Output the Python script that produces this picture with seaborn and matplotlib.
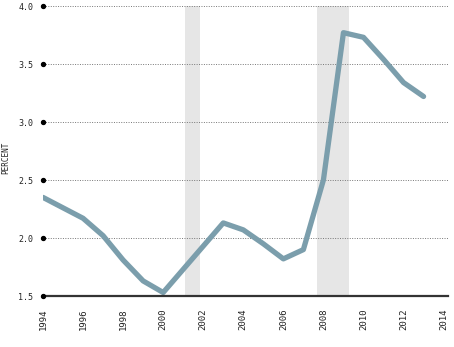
import pandas as pd
import numpy as np
import matplotlib
matplotlib.use('Agg')
import matplotlib.pyplot as plt
import seaborn as sns

# ── データ ──────────────────────────────────────────
years = list(range(1994, 2014))
values = [2.35, 2.26, 2.17, 2.02, 1.81, 1.63, 1.53, 1.73, 1.93, 2.13,
          2.07, 1.95, 1.82, 1.90, 2.50, 3.77, 3.73, 3.54, 3.34, 3.22]
recessions = [(2001.1, 2001.85), (2007.7, 2009.27)]
yticks = [1.5, 2.0, 2.5, 3.0, 3.5, 4.0]
xticks = list(range(1994, 2015, 2))

df = pd.DataFrame({'year': years, 'value': values})

sns.set_theme(style='white')
plt.rcParams['font.family'] = ['DejaVu Sans Mono', 'DejaVu Sans']

fig = plt.figure(figsize=(4.54, 3.47), dpi=100)
ax = fig.add_axes([43 / 454, 1 - 296 / 347, 405 / 454, 290 / 347])

for x0, x1 in recessions:
    ax.axvspan(x0, x1, color='#e6e6e6', lw=0, zorder=0)

sns.lineplot(data=df, x='year', y='value', ax=ax, color='#7b9eac',
             linewidth=3.8, solid_joinstyle='round', solid_capstyle='round', zorder=3)

ax.set_xlim(1994, 2014.22)
ax.set_ylim(1.5, 4.0)
ax.set_yticks(yticks)
ax.set_yticklabels([f'{v:.1f}' for v in yticks], fontsize=6)
ax.set_xticks(xticks)
ax.set_xticklabels([str(x) for x in xticks], fontsize=6.5, rotation=90)
ax.tick_params(axis='both', length=0, colors='#222222')
ax.tick_params(axis='y', pad=7)
ax.tick_params(axis='x', pad=9)

for y in yticks[1:]:
    ax.axhline(y, color='#777777', linestyle=(0, (1, 1.5)), lw=0.7, zorder=1)

# 目盛りの点
ax.scatter([1994] * len(yticks), yticks, s=8, color='black', zorder=5, clip_on=False)

for s in ['top', 'right', 'left']:
    ax.spines[s].set_visible(False)
ax.spines['bottom'].set_color('#333333')
ax.spines['bottom'].set_linewidth(1.6)
ax.spines['bottom'].set_zorder(4)

ax.set_xlabel('')
ax.set_ylabel('')
fig.text(0.013, 0.545, 'PERCENT', rotation=90, fontsize=5.5, color='#222222',
         ha='center', va='center')

plt.savefig('out.png', dpi=100)
